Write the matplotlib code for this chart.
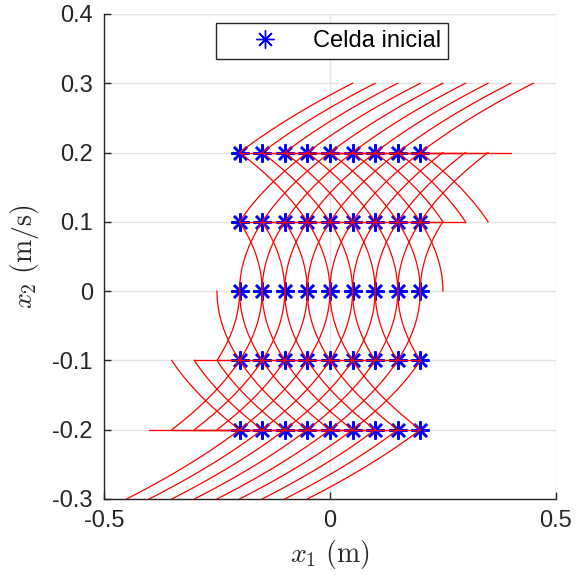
import numpy as np
import matplotlib
matplotlib.use('Agg')
import matplotlib.pyplot as plt

plt.rcParams['mathtext.fontset'] = 'cm'
plt.rcParams['font.family'] = ['Liberation Sans', 'DejaVu Sans']

# initial cells of the grid
x1_init = [-0.2, -0.15, -0.1, -0.05, 0.0, 0.05, 0.1, 0.15, 0.2]
x2_init = [-0.2, -0.1, 0.0, 0.1, 0.2]
# control inputs and horizon for the double integrator x1' = x2, x2' = u
u_values = [-0.1, 0.0, 0.1]
T = 1.0

xticks = [-0.5, 0, 0.5]
xticklabels = ['-0.5', '0', '0.5']
yticks = [-0.3, -0.2, -0.1, 0, 0.1, 0.2, 0.3, 0.4]
yticklabels = ['-0.3', '-0.2', '-0.1', '0', '0.1', '0.2', '0.3', '0.4']

fig = plt.figure(figsize=(5.76, 5.75), dpi=100)
ax = fig.add_axes([0.1806, 0.1322, 0.7844, 0.8435])

X1, X2 = np.meshgrid(x1_init, x2_init)
ax.plot(X1.ravel(), X2.ravel(), marker=(8, 2, 0), color='blue', ms=13, mew=1.8,
        linestyle='none', label='Celda inicial', zorder=2)

# trajectories drawn after the markers, on top of them
t = np.linspace(0, T, 60)
for a in x1_init:
    for b in x2_init:
        for u in u_values:
            x1 = a + b*t + 0.5*u*t**2
            x2 = b + u*t
            ax.plot(x1, x2, color='red', lw=0.9, zorder=3)

ax.set_xlim(-0.5, 0.5)
ax.set_ylim(-0.3, 0.4)
ax.set_xticks(xticks)
ax.set_xticklabels(xticklabels)
ax.set_yticks(yticks)
ax.set_yticklabels(yticklabels)
ax.grid(True, color='#e3e3e3', lw=1)
ax.set_axisbelow(True)
for s in ['top', 'right']:
    ax.spines[s].set_visible(False)
for s in ['left', 'bottom']:
    ax.spines[s].set_color('#262626')
    ax.spines[s].set_linewidth(1)
ax.tick_params(direction='in', length=5, width=1, color='#262626',
               labelsize=17, labelcolor='#262626', pad=8)

ax.set_xlabel(r'$x_1\ \mathrm{(m)}$', fontsize=20, color='#262626', labelpad=4)
ax.set_ylabel(r'$x_2\ \mathrm{(m/s)}$', fontsize=20, color='#262626', labelpad=8)

leg = ax.legend(loc='upper center', bbox_to_anchor=(0.505, 0.982),
                fontsize=17, fancybox=False, edgecolor='#262626',
                framealpha=1, handlelength=3.5, handletextpad=0.3,
                borderpad=0.3, borderaxespad=0)
leg.get_frame().set_linewidth(1)
leg.legend_handles[0].set_markeredgewidth(1.0)

fig.savefig('out.png', dpi=100)
